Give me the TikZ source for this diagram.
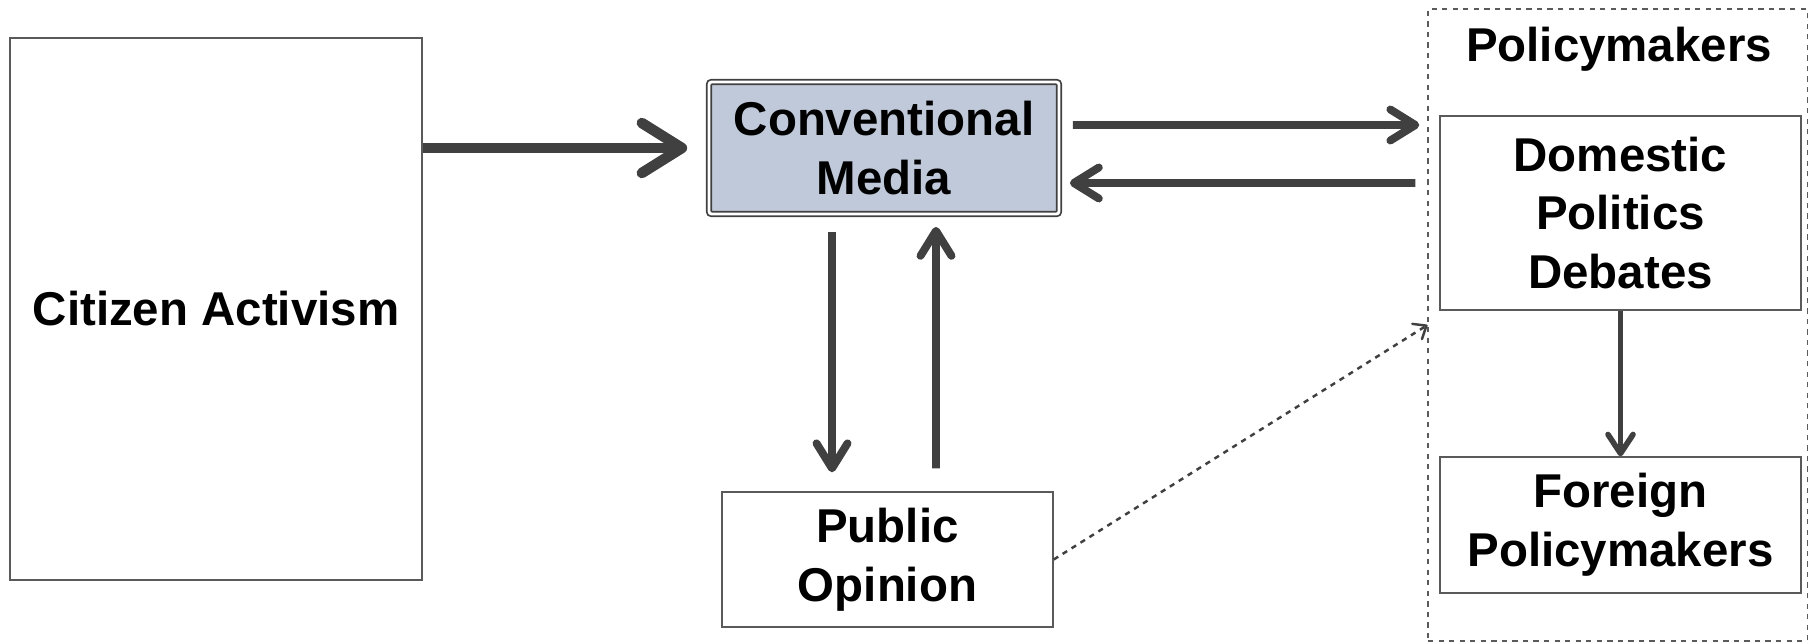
\documentclass[tikz,border=0pt]{standalone}
\usepackage{fontspec}
\setmainfont{Liberation Sans}
\usetikzlibrary{arrows.meta}
\definecolor{linegray}{HTML}{404040}
\definecolor{boxgray}{HTML}{5A5A5A}
\definecolor{mediafill}{HTML}{BFC9D9}
\begin{document}
\begin{tikzpicture}[
	box/.style={draw=boxgray,line width=0.8pt,fill=white,align=center,inner sep=0pt,
		font=\fontsize{27}{33.5}\selectfont\bfseries},
	bigarrow/.style={draw=linegray,line width=6pt,-{Straight Barb[round,length=0.8cm,width=1.0cm]}},
	midarrow/.style={draw=linegray,line width=4.5pt,-{Straight Barb[round,length=0.5cm,width=0.62cm]}},
	thinarrow/.style={draw=linegray,line width=3.2pt,-{Straight Barb[round,length=0.38cm,width=0.5cm]}},
	dasharrow/.style={draw=linegray,line width=1.4pt,dashed,-{Straight Barb[round,length=0.22cm,width=0.36cm]}}]
	\useasboundingbox (0,0) rectangle (36.32,12.86);
		\node[box,minimum width=8.24cm,minimum height=10.84cm](ca) at (4.32,6.68){Citizen Activism};
		\node[box,draw=linegray,line width=1pt,fill=mediafill,double=white,double distance=1.6pt,rounded corners=1.5pt,
			minimum width=7.0cm,minimum height=2.64cm](cm) at (17.68,9.9){Conventional\\Media};
		\node[box,minimum width=6.62cm,minimum height=2.7cm](po) at (17.75,1.67){Public\\Opinion};
		\node[draw=boxgray,line width=0.6pt,dashed,minimum width=7.58cm,minimum height=12.64cm](pol) at (32.35,6.36){};
		\node[font=\fontsize{27}{33.5}\selectfont\bfseries](polt) at (32.38,11.88){Policymakers};
		\node[box,minimum width=7.22cm,minimum height=3.88cm](dpd) at (32.41,8.6){Domestic\\Politics\\Debates};
		\node[box,minimum width=7.22cm,minimum height=2.72cm](fp) at (32.41,2.36){Foreign\\Policymakers};
		\draw[bigarrow](ca.east |- cm.west)--([xshift=-0.42cm]cm.west);
		\draw[midarrow]([xshift=0.26cm,yshift=0.46cm]cm.east)--([xshift=-0.4cm,yshift=1.76cm]dpd.west);
		\draw[midarrow]([xshift=-0.48cm,yshift=0.6cm]dpd.west)--([xshift=0.2cm,yshift=-0.7cm]cm.east);
		\draw[midarrow]([xshift=-1.04cm,yshift=-0.34cm]cm.south)--([xshift=-1.11cm,yshift=0.38cm]po.north);
		\draw[midarrow]([xshift=0.97cm,yshift=0.46cm]po.north)--([xshift=1.04cm,yshift=-0.24cm]cm.south);
		\draw[thinarrow](dpd.south)--(fp.north);
		\draw[dasharrow](po.east)--(pol.west);
	\end{tikzpicture}
\end{document}
